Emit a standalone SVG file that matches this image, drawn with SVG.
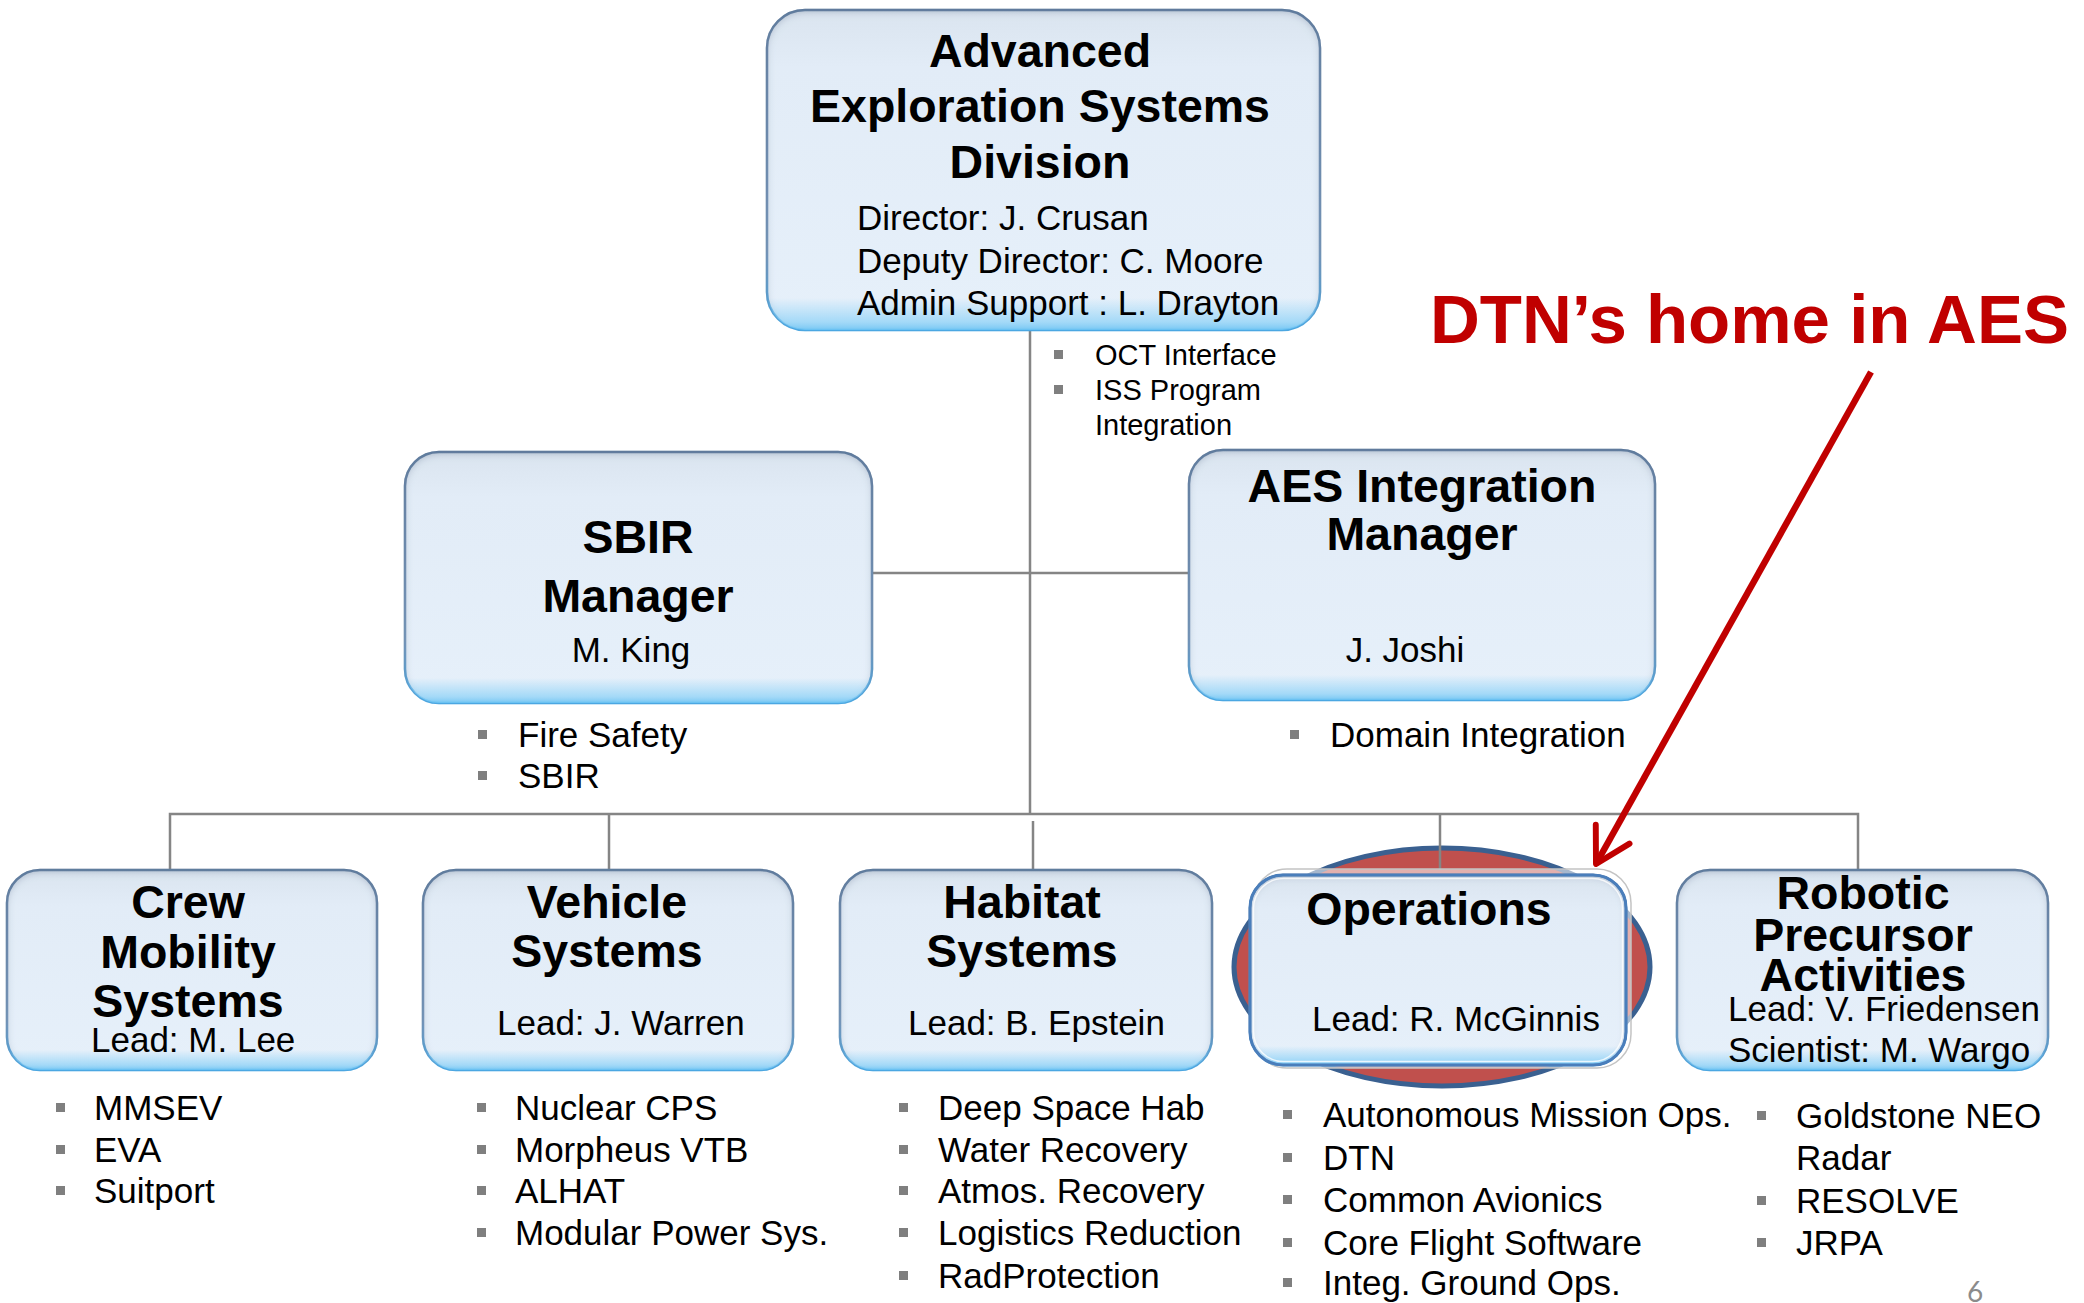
<svg xmlns="http://www.w3.org/2000/svg" width="2084" height="1303" viewBox="0 0 2084 1303">
  <defs>
    <style>
      .t { font-family: "Liberation Sans", Arial, sans-serif; fill: #000; }
      .h { font-weight: bold; font-size: 46.5px; text-anchor: middle; }
      .n { font-size: 35px; }
      .m { text-anchor: middle; }
      .s { font-size: 29px; }
      .sq { fill: #7F7F7F; }
      .conn { stroke: #858585; stroke-width: 2.5; fill: none; }
      .box { fill: url(#boxFill); stroke: url(#boxEdge); stroke-width: 2.5; filter: url(#bevel); }
      .glow { fill: url(#bottomGlow); stroke: none; }
      .callout { font-family: "Liberation Sans", Arial, sans-serif; font-weight: bold; font-size: 69px; fill: #C00000; }
    </style>
    <linearGradient id="boxFill" x1="0" y1="0" x2="0" y2="1">
      <stop offset="0" stop-color="#DAE4EF"/>
      <stop offset="0.18" stop-color="#E2ECF7"/>
      <stop offset="1" stop-color="#E6F0FA"/>
    </linearGradient>
    <linearGradient id="boxEdge" x1="0" y1="0" x2="0" y2="1">
      <stop offset="0" stop-color="#6C86A6"/>
      <stop offset="0.75" stop-color="#7E9DC0"/>
      <stop offset="1" stop-color="#4FB1EE"/>
    </linearGradient>
    <linearGradient id="bottomGlow" x1="0" y1="0" x2="0" y2="1">
      <stop offset="0" stop-color="#8ED2F7" stop-opacity="0"/>
      <stop offset="0.9" stop-color="#8ED2F7" stop-opacity="0"/>
      <stop offset="0.975" stop-color="#8ED2F7" stop-opacity="0.75"/>
      <stop offset="1" stop-color="#6CC4F4" stop-opacity="0.9"/>
    </linearGradient>
    <filter id="bevel" x="-5%" y="-5%" width="110%" height="110%">
      <feFlood flood-color="#45658C" flood-opacity="0.6" result="c"/>
      <feComposite in="c" in2="SourceAlpha" operator="out" result="outside"/>
      <feGaussianBlur in="outside" stdDeviation="4" result="b"/>
      <feOffset in="b" dx="0" dy="1.5" result="bo"/>
      <feComposite in="bo" in2="SourceAlpha" operator="in" result="inner"/>
      <feMerge>
        <feMergeNode in="SourceGraphic"/>
        <feMergeNode in="inner"/>
      </feMerge>
    </filter>
    <marker id="openHead" viewBox="0 0 20 20" refX="17" refY="10" markerWidth="7" markerHeight="7" orient="auto" markerUnits="strokeWidth">
      <path d="M2,1.5 L17,10 L2,18.5" fill="none" stroke="#C00000" stroke-width="2.6" stroke-linecap="round" stroke-linejoin="round"/>
    </marker>
  </defs>

  <rect x="0" y="0" width="2084" height="1303" fill="#FFFFFF"/>

  <!-- highlight behind the Operations box -->
  <g id="highlight">
    <ellipse cx="1442" cy="967" rx="208" ry="119" fill="#C0504D" stroke="#3A6090" stroke-width="5"/>
  </g>

  <!-- org-chart connectors -->
  <g id="connectors">
    <line class="conn" x1="1030" y1="330" x2="1030" y2="814"/>
    <line class="conn" x1="872" y1="573" x2="1189" y2="573"/>
    <polyline class="conn" points="170,870 170,814 1858,814 1858,870"/>
    <line class="conn" x1="609" y1="814" x2="609" y2="870"/>
    <line class="conn" x1="1033" y1="821" x2="1033" y2="871"/>
    <line class="conn" x1="1440" y1="814" x2="1440" y2="870"/>
  </g>

  <!-- division office -->
  <g id="aes-division">
    <rect class="box" x="767" y="10" width="553" height="320" rx="38"/>
    <rect class="glow" x="767" y="10" width="553" height="320" rx="38"/>
    <text class="t h" x="1040" y="67">Advanced</text>
    <text class="t h" x="1040" y="122">Exploration Systems</text>
    <text class="t h" x="1040" y="178">Division</text>
    <text class="t n" x="857" y="230">Director: J. Crusan</text>
    <text class="t n" x="857" y="273">Deputy Director: C. Moore</text>
    <text class="t n" x="857" y="315">Admin Support : L. Drayton</text>
  </g>
  <g id="aes-division-notes">
    <rect class="sq" x="1054" y="350" width="9" height="9"/>
    <rect class="sq" x="1054" y="385" width="9" height="9"/>
    <text class="t s" x="1095" y="365">OCT Interface</text>
    <text class="t s" x="1095" y="400">ISS Program</text>
    <text class="t s" x="1095" y="435">Integration</text>
  </g>

  <!-- staff managers -->
  <g id="sbir-manager">
    <rect class="box" x="405" y="452" width="467" height="251" rx="34"/>
    <rect class="glow" x="405" y="452" width="467" height="251" rx="34"/>
    <text class="t h" x="638" y="553">SBIR</text>
    <text class="t h" x="638" y="612">Manager</text>
    <text class="t n m" x="631" y="662">M. King</text>
    <rect class="sq" x="478" y="730" width="9" height="9"/>
    <rect class="sq" x="478" y="771" width="9" height="9"/>
    <text class="t n" x="518" y="747">Fire Safety</text>
    <text class="t n" x="518" y="788">SBIR</text>
  </g>

  <g id="aes-integration-manager">
    <rect class="box" x="1189" y="450" width="466" height="250" rx="34"/>
    <rect class="glow" x="1189" y="450" width="466" height="250" rx="34"/>
    <text class="t h" x="1422" y="502">AES Integration</text>
    <text class="t h" x="1422" y="550">Manager</text>
    <text class="t n m" x="1405" y="662">J. Joshi</text>
    <rect class="sq" x="1290" y="730" width="9" height="9"/>
    <text class="t n" x="1330" y="747">Domain Integration</text>
  </g>

  <!-- domains -->
  <g id="crew-mobility">
    <rect class="box" x="7" y="870" width="370" height="200" rx="33"/>
    <rect class="glow" x="7" y="870" width="370" height="200" rx="33"/>
    <text class="t h" x="188" y="918">Crew</text>
    <text class="t h" x="188" y="968">Mobility</text>
    <text class="t h" x="188" y="1017">Systems</text>
    <text class="t n" x="91" y="1052">Lead: M. Lee</text>
    <rect class="sq" x="56" y="1103" width="9" height="9"/>
    <rect class="sq" x="56" y="1145" width="9" height="9"/>
    <rect class="sq" x="56" y="1186" width="9" height="9"/>
    <text class="t n" x="94" y="1120">MMSEV</text>
    <text class="t n" x="94" y="1162">EVA</text>
    <text class="t n" x="94" y="1203">Suitport</text>
  </g>

  <g id="vehicle-systems">
    <rect class="box" x="423" y="870" width="370" height="200" rx="33"/>
    <rect class="glow" x="423" y="870" width="370" height="200" rx="33"/>
    <text class="t h" x="607" y="918">Vehicle</text>
    <text class="t h" x="607" y="967">Systems</text>
    <text class="t n" x="497" y="1035">Lead: J. Warren</text>
    <rect class="sq" x="477" y="1103" width="9" height="9"/>
    <rect class="sq" x="477" y="1145" width="9" height="9"/>
    <rect class="sq" x="477" y="1186" width="9" height="9"/>
    <rect class="sq" x="477" y="1228" width="9" height="9"/>
    <text class="t n" x="515" y="1120">Nuclear CPS</text>
    <text class="t n" x="515" y="1162">Morpheus VTB</text>
    <text class="t n" x="515" y="1203">ALHAT</text>
    <text class="t n" x="515" y="1245">Modular Power Sys.</text>
  </g>

  <g id="habitat-systems">
    <rect class="box" x="840" y="870" width="372" height="200" rx="33"/>
    <rect class="glow" x="840" y="870" width="372" height="200" rx="33"/>
    <text class="t h" x="1022" y="918">Habitat</text>
    <text class="t h" x="1022" y="967">Systems</text>
    <text class="t n" x="908" y="1035">Lead: B. Epstein</text>
    <rect class="sq" x="899" y="1103" width="9" height="9"/>
    <rect class="sq" x="899" y="1145" width="9" height="9"/>
    <rect class="sq" x="899" y="1186" width="9" height="9"/>
    <rect class="sq" x="899" y="1228" width="9" height="9"/>
    <rect class="sq" x="899" y="1271" width="9" height="9"/>
    <text class="t n" x="938" y="1120">Deep Space Hab</text>
    <text class="t n" x="938" y="1162">Water Recovery</text>
    <text class="t n" x="938" y="1203">Atmos. Recovery</text>
    <text class="t n" x="938" y="1245">Logistics Reduction</text>
    <text class="t n" x="938" y="1288">RadProtection</text>
  </g>

  <g id="operations">
    <rect x="1253" y="869" width="378" height="199" rx="34" fill="#FFFFFF" fill-opacity="0.55" stroke="#C4C4C4" stroke-width="1.5"/>
    <rect class="box" x="1250" y="875" width="376" height="190" rx="33"/>
    <rect class="glow" x="1250" y="875" width="376" height="190" rx="33"/>
    <rect x="1250" y="875" width="376" height="190" rx="33" fill="none" stroke="#4A7EBB" stroke-width="3"/>
    <rect x="1253.5" y="878.5" width="369" height="183" rx="30" fill="none" stroke="#FFFFFF" stroke-opacity="0.8" stroke-width="1.5"/>
    <text class="t h" x="1429" y="925">Operations</text>
    <text class="t n" x="1312" y="1031">Lead: R. McGinnis</text>
    <rect class="sq" x="1283" y="1110" width="9" height="9"/>
    <rect class="sq" x="1283" y="1153" width="9" height="9"/>
    <rect class="sq" x="1283" y="1195" width="9" height="9"/>
    <rect class="sq" x="1283" y="1238" width="9" height="9"/>
    <rect class="sq" x="1283" y="1278" width="9" height="9"/>
    <text class="t n" x="1323" y="1127">Autonomous Mission Ops.</text>
    <text class="t n" x="1323" y="1170">DTN</text>
    <text class="t n" x="1323" y="1212">Common Avionics</text>
    <text class="t n" x="1323" y="1255">Core Flight Software</text>
    <text class="t n" x="1323" y="1295">Integ. Ground Ops.</text>
  </g>

  <g id="robotic-precursor">
    <rect class="box" x="1677" y="870" width="371" height="200" rx="33"/>
    <rect class="glow" x="1677" y="870" width="371" height="200" rx="33"/>
    <text class="t h" x="1863" y="909">Robotic</text>
    <text class="t h" x="1863" y="951">Precursor</text>
    <text class="t h" x="1863" y="991">Activities</text>
    <text class="t n" x="1728" y="1021">Lead: V. Friedensen</text>
    <text class="t n" x="1728" y="1062">Scientist: M. Wargo</text>
    <rect class="sq" x="1757" y="1111" width="9" height="9"/>
    <rect class="sq" x="1757" y="1196" width="9" height="9"/>
    <rect class="sq" x="1757" y="1238" width="9" height="9"/>
    <text class="t n" x="1796" y="1128">Goldstone NEO</text>
    <text class="t n" x="1796" y="1170">Radar</text>
    <text class="t n" x="1796" y="1213">RESOLVE</text>
    <text class="t n" x="1796" y="1255">JRPA</text>
  </g>

  <!-- callout pointing at Operations -->
  <g id="callout">
    <text class="callout" x="1430" y="343">DTN’s home in AES</text>
    <line x1="1871" y1="372" x2="1596" y2="864" stroke="#C00000" stroke-width="6.5" marker-end="url(#openHead)"/>
  </g>

  <text x="1967" y="1302" font-family="Lato, 'Open Sans', sans-serif" font-size="28" fill="#8B8B8B">6</text>
</svg>
